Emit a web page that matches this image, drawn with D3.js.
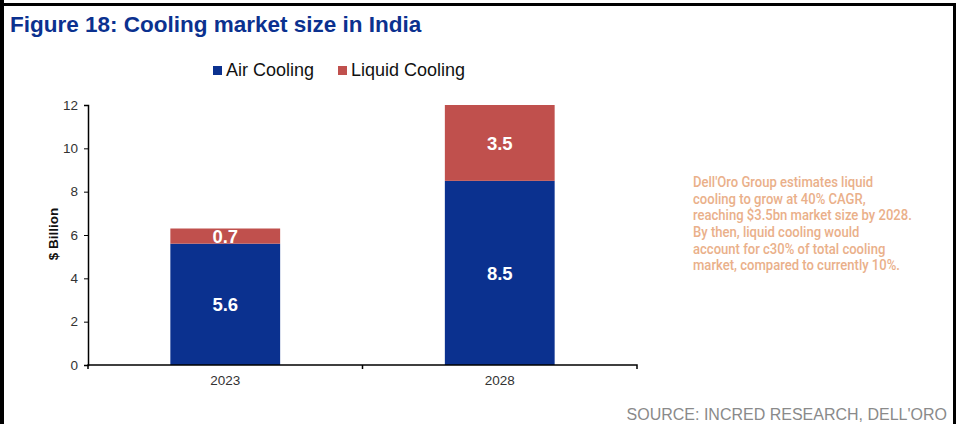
<!DOCTYPE html>
<html>
<head>
<meta charset="utf-8">
<script src="https://cdn.jsdelivr.net/npm/d3@7"></script>
<style>
  body { margin: 0; background: #fff; }
  svg { display: block; font-family: Arial, "Liberation Sans", sans-serif; }
</style>
</head>
<body>
<div id="chart"></div>
<script>
// chart data
var years = ["2023", "2028"];
var airCooling = [5.6, 8.5];
var liquidCooling = [0.7, 3.5];
var yTicks = [0, 2, 4, 6, 8, 10, 12];
var seriesNames = ["Air Cooling", "Liquid Cooling"];
var noteLines = [
  "Dell'Oro Group estimates liquid",
  "cooling to grow at 40% CAGR,",
  "reaching $3.5bn market size by 2028.",
  "By then, liquid cooling would",
  "account for c30% of total cooling",
  "market, compared to currently 10%."
];

var width = 960, height = 424;
var colors = ["#0b318f", "#c0504d"];

var svg = d3.select("#chart").append("svg")
  .attr("width", width)
  .attr("height", height);

// frame
svg.append("rect").attr("x", 0).attr("y", 0).attr("width", 4).attr("height", height).attr("fill", "#000");
svg.append("rect").attr("x", 0).attr("y", 3).attr("width", 956).attr("height", 3).attr("fill", "#000");
svg.append("rect").attr("x", 953).attr("y", 3).attr("width", 3).attr("height", height).attr("fill", "#000");

svg.append("text")
  .attr("x", 10).attr("y", 32)
  .attr("fill", "#0b318f")
  .attr("font-size", 22.5)
  .attr("font-weight", "bold")
  .text("Figure 18: Cooling market size in India");

var x = d3.scaleBand().domain(years).range([88, 637]).paddingInner(0.6).paddingOuter(0.3);
var y = d3.scaleLinear().domain([0, 12]).range([365, 105]);

var stackData = years.map(function (yr, i) {
  return { year: yr, air: airCooling[i], liquid: liquidCooling[i] };
});
var series = d3.stack().keys(["air", "liquid"])(stackData);

var groups = svg.selectAll("g.series").data(series).enter().append("g")
  .attr("class", "series")
  .attr("fill", function (d, i) { return colors[i]; });

groups.selectAll("rect").data(function (d) { return d; }).enter().append("rect")
  .attr("x", function (d) { return x(d.data.year); })
  .attr("width", x.bandwidth())
  .attr("y", function (d) { return y(d[1]); })
  .attr("height", function (d) { return y(d[0]) - y(d[1]); });

groups.selectAll("text").data(function (d) { return d; }).enter().append("text")
  .attr("x", function (d) { return x(d.data.year) + x.bandwidth() / 2; })
  .attr("y", function (d) { return (y(d[0]) + y(d[1])) / 2; })
  .attr("dy", "0.36em")
  .attr("text-anchor", "middle")
  .attr("fill", "#fff")
  .attr("font-size", 18.5)
  .attr("font-weight", "bold")
  .text(function (d) { return (d[1] - d[0]).toFixed(1); });

// y axis
var yAxis = svg.append("g")
  .attr("transform", "translate(88,0)")
  .call(d3.axisLeft(y).tickValues(yTicks).tickSize(4).tickPadding(6));
yAxis.select(".domain").attr("stroke", "#000").attr("stroke-width", 1.5);
yAxis.selectAll(".tick line").attr("stroke", "#000");
yAxis.selectAll(".tick text").attr("font-size", 13.5).attr("fill", "#333").attr("font-family", "Arial, 'Liberation Sans', sans-serif");

// x axis
var xAxis = svg.append("g")
  .attr("transform", "translate(0,365)")
  .call(d3.axisBottom(x).tickSize(0).tickPadding(10));
xAxis.select(".domain").attr("stroke", "#000").attr("stroke-width", 1.5)
  .attr("d", "M88,4V0H637V4");
xAxis.selectAll(".tick text").attr("font-size", 13.5).attr("fill", "#333").attr("font-family", "Arial, 'Liberation Sans', sans-serif");
// category separator tick
xAxis.append("line")
  .attr("x1", (x(years[0]) + x(years[1]) + x.bandwidth()) / 2)
  .attr("x2", (x(years[0]) + x(years[1]) + x.bandwidth()) / 2)
  .attr("y1", 0).attr("y2", 4)
  .attr("stroke", "#000").attr("stroke-width", 1.5);

svg.append("text")
  .attr("transform", "translate(58,234) rotate(-90)")
  .attr("text-anchor", "middle")
  .attr("font-size", 13.5)
  .attr("font-weight", "bold")
  .attr("fill", "#111")
  .text("$ Billion");

// legend
var legendX = [213, 338];
var legend = svg.selectAll("g.legend").data(seriesNames).enter().append("g")
  .attr("class", "legend")
  .attr("transform", function (d, i) { return "translate(" + legendX[i] + ",0)"; });
legend.append("rect").attr("x", 0).attr("y", 66).attr("width", 9).attr("height", 9)
  .attr("fill", function (d, i) { return colors[i]; });
legend.append("text").attr("x", 13).attr("y", 76)
  .attr("font-size", 18).attr("fill", "#111")
  .text(function (d) { return d; });

// note, squeezed sideways to look like the condensed original
var note = svg.append("g");
var noteText = note.selectAll("text").data(noteLines).enter().append("text")
  .attr("x", 0)
  .attr("y", function (d, i) { return 187 + i * 16.7; })
  .attr("font-family", "Roboto, sans-serif")
  .attr("font-size", 14.2)
  .attr("font-weight", 500)
  .attr("fill", "#eab08a")
  .text(function (d) { return d; });
var widest = d3.max(noteText.nodes(), function (n) { return n.getComputedTextLength(); });
note.attr("transform", "translate(693,0) scale(" + (219 / widest) + ",1)");

svg.append("text")
  .attr("x", 947).attr("y", 420)
  .attr("text-anchor", "end")
  .attr("font-size", 16)
  .attr("fill", "#8a8a8a")
  .text("SOURCE: INCRED RESEARCH, DELL'ORO");
</script>
</body>
</html>
